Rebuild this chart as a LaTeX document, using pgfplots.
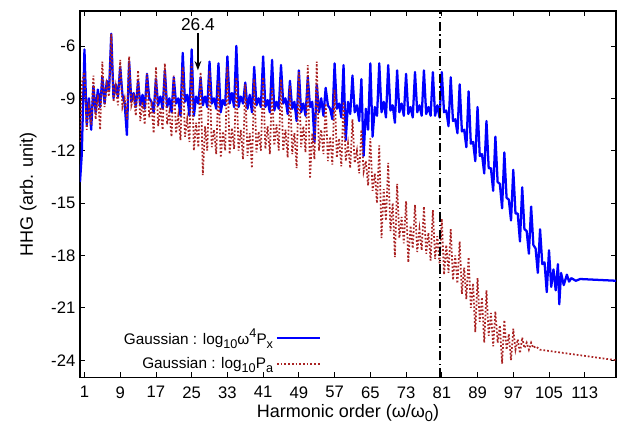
\documentclass[border=0pt]{standalone}
\usepackage{pgfplots}
\pgfplotsset{compat=1.18}
\usepackage{pgfplotstable}
\usetikzlibrary{arrows.meta}
\usepackage{fontspec}
\setmainfont{Liberation Sans}
\definecolor{myblue}{rgb}{0,0,1}
\definecolor{myred}{RGB}{170,35,35}
\newcommand{\lsub}[1]{\raisebox{-0.45ex}{\fontsize{9.5}{10}\selectfont #1}}
\newcommand{\lsup}[1]{\raisebox{0.9ex}{\fontsize{9.5}{10}\selectfont #1}}
\newcommand{\xsub}[1]{\raisebox{-0.45ex}{\fontsize{11}{12}\selectfont #1}}

\pgfplotstableread{
x y
0 -13.8
0.4 -12.2
1 -6.2
1.5 -10.5
2 -9.0
2.5 -10.8
3 -8.3
3.5 -9.8
4 -8.5
4.5 -9.5
5 -7.8
5.5 -9.3
6 -8.0
6.5 -8.6
7 -5.3
7.5 -9.0
8 -8.2
8.5 -8.9
9 -7.2
9.5 -8.8
10 -9.3
10.5 -11.1
11 -6.9
11.5 -9.2
12 -8.7
12.5 -9.5
13 -8.0
13.5 -9.4
14 -8.8
14.5 -9.6
15 -7.6
15.5 -9.0
16 -9.2
16.5 -9.8
17 -7.9
17.5 -9.4
18 -8.9
18.5 -9.6
19 -7.4
19.5 -9.5
20 -9.0
20.5 -9.8
21 -7.8
21.5 -9.3
22 -9.0
22.5 -10.0
23 -6.4
23.5 -9.2
24 -8.8
24.5 -10.0
25 -6.2
25.5 -10.0
26 -8.9
26.5 -9.3
27 -7.8
27.5 -9.4
28 -8.9
28.5 -9.5
29 -6.9
29.5 -9.3
30 -9.0
30.5 -9.6
31 -7.0
31.5 -9.8
32 -9.1
32.5 -9.4
33 -6.6
33.5 -9.3
34 -8.7
34.5 -9.5
35 -6.0
35.5 -9.5
36 -8.9
36.5 -9.3
37 -8.1
37.5 -9.6
38 -8.8
38.5 -9.8
39 -7.2
39.5 -9.4
40 -9.0
40.5 -9.5
41 -6.6
41.5 -9.5
42 -9.1
42.5 -9.8
43 -6.8
43.5 -9.7
44 -9.2
44.5 -9.6
45 -7.1
45.5 -9.3
46 -9.0
46.5 -9.9
47 -8.0
47.5 -9.6
48 -9.2
48.5 -10.3
49 -7.4
49.5 -9.8
50 -9.3
50.5 -10.0
51 -7.8
51.5 -9.5
52 -9.2
52.5 -11.5
53 -8.2
53.5 -9.8
54 -9.0
54.5 -10.0
55 -8.4
55.5 -9.4
56 -9.6
56.5 -10.2
57 -7.0
57.5 -9.6
58 -9.3
58.5 -10.1
59 -7.1
59.5 -11.4
60 -9.2
60.5 -9.9
61 -7.7
61.5 -9.8
62 -9.4
62.5 -10.3
63 -7.9
63.5 -12.3
64 -9.6
64.5 -10.8
65 -7.0
65.5 -11.2
66 -9.5
66.5 -10.0
67 -7.0
67.5 -9.8
68 -9.2
68.5 -10.1
69 -7.1
69.5 -9.7
70 -9.4
70.5 -10.4
71 -7.4
71.5 -9.8
72 -9.3
72.5 -10.0
73 -7.6
73.5 -9.9
74 -9.5
74.5 -10.1
75 -7.5
75.5 -9.8
76 -9.4
76.5 -10.0
77 -7.4
77.5 -9.9
78 -9.5
78.5 -10.0
79 -7.5
79.5 -10.0
80 -9.4
80.5 -10.1
81 -7.5
81.5 -9.8
82 -9.7
82.5 -10.6
83 -7.8
83.5 -10.3
84 -10.2
84.5 -11.0
85 -8.2
85.5 -10.9
86 -10.8
86.5 -11.8
87 -8.6
87.5 -11.6
88 -11.5
88.5 -12.6
89 -9.5
89.5 -12.3
90 -12.2
90.5 -13.3
91 -10.3
91.5 -13.0
92 -13.0
92.5 -14.3
93 -11.2
93.5 -13.8
94 -13.9
94.5 -15.3
95 -12.1
95.5 -14.7
96 -14.8
96.5 -16.0
97 -13.1
97.5 -15.6
98 -15.6
98.5 -17.2
99 -14.1
99.5 -16.5
100 -16.6
100.5 -17.9
101 -15.2
101.5 -17.4
102 -17.6
102.5 -19.0
103 -16.5
103.5 -18.5
104 -18.4
104.5 -20.1
105 -17.7
105.5 -19.8
106 -18.8
106.5 -20.0
107 -18.5
107.3 -20.8
107.7 -19.0
108.3 -19.7
109 -19.1
109.5 -19.5
110 -19.3
111 -19.45
112 -19.35
120 -19.45
}\bluedata

\pgfplotstableread{
x y
0 -11.5
0.5 -8.0
1 -7.5
1.5 -10.8
2 -9.5
2.5 -10.5
3 -7.7
3.5 -10.2
4 -8.8
4.5 -10.8
5 -6.9
5.5 -9.5
6 -8.2
6.5 -8.9
7 -5.3
7.5 -9.2
8 -8.3
8.5 -9.4
9 -6.8
9.5 -9.5
10 -9.0
10.5 -10.2
11 -6.6
11.5 -9.4
12 -8.9
12.5 -10.0
13 -7.4
13.5 -10.3
14 -9.2
14.5 -10.5
15 -7.6
15.5 -10.1
16 -9.4
16.5 -11.0
17 -7.2
17.5 -10.6
18 -9.5
18.5 -10.8
19 -7.0
19.5 -10.5
20 -9.8
20.5 -11.2
21 -7.7
21.5 -11.0
22 -10.0
22.5 -11.4
23 -7.2
23.5 -11.2
24 -10.2
24.5 -11.5
25 -7.0
25.5 -12.0
26 -10.4
26.5 -11.8
27 -7.5
27.5 -13.4
28 -10.6
28.5 -12.0
29 -7.4
29.5 -11.8
30 -10.8
30.5 -12.2
31 -8.0
31.5 -12.4
32 -10.9
32.5 -12.0
33 -7.2
33.5 -12.2
34 -10.7
34.5 -11.9
35 -7.8
35.5 -12.0
36 -10.8
36.5 -12.5
37 -8.2
37.5 -12.3
38 -11.0
38.5 -13.0
39 -7.9
39.5 -12.1
40 -10.9
40.5 -12.0
41 -7.8
41.5 -11.9
42 -10.6
42.5 -12.2
43 -8.4
43.5 -11.7
44 -10.5
44.5 -12.0
45 -7.9
45.5 -12.0
46 -10.8
46.5 -12.4
47 -8.3
47.5 -12.2
48 -11.0
48.5 -13.0
49 -7.5
49.5 -11.8
50 -10.6
50.5 -12.1
51 -7.1
51.5 -13.6
52 -11.0
52.5 -12.5
53 -6.9
53.5 -12.0
54 -10.8
54.5 -12.2
55 -9.3
55.5 -12.6
56 -11.2
56.5 -12.8
57 -8.5
57.5 -12.4
58 -11.3
58.5 -12.9
59 -9.2
59.5 -12.6
60 -11.6
60.5 -13.0
61 -10.2
61.5 -12.7
62 -12.0
62.5 -13.3
63 -10.8
63.5 -13.2
64 -12.6
64.5 -14.0
65 -11.3
65.5 -14.3
66 -13.3
66.5 -15.0
67 -11.7
67.5 -17.0
68 -14.2
68.5 -16.0
69 -12.7
69.5 -16.6
70 -15.0
70.5 -18.1
71 -13.9
71.5 -17.0
72 -15.8
72.5 -17.3
73 -14.9
73.5 -18.4
74 -16.3
74.5 -17.6
75 -15.1
75.5 -17.8
76 -16.5
76.5 -17.7
77 -15.2
77.5 -17.9
78 -16.7
78.5 -18.3
79 -15.4
79.5 -18.2
80 -16.9
80.5 -18.5
81 -15.9
81.5 -19.1
82 -17.4
82.5 -19.0
83 -16.5
83.5 -19.4
84 -18.0
84.5 -19.6
85 -17.2
85.5 -20.2
86 -18.7
86.5 -20.5
87 -18.1
87.5 -21.0
88 -19.6
88.5 -22.4
89 -19.3
89.5 -21.8
90 -20.4
90.5 -23.0
91 -20.0
91.5 -22.6
92 -21.3
92.5 -23.2
93 -21.2
93.5 -23.0
94 -22.0
94.5 -24.2
95 -21.7
95.5 -23.4
96 -22.5
96.5 -24.0
97 -22.2
97.5 -23.4
98 -22.8
98.5 -23.6
99 -22.7
99.5 -23.3
100 -23.0
100.5 -23.4
101 -23.0
101.5 -23.3
102 -23.2
103 -23.4
120 -24.0
}\reddata

\begin{document}
\begin{tikzpicture}
\path[use as bounding box] (-60pt,-42pt) rectangle (406.5pt,283.25pt);
\begin{axis}[
  scale only axis,
  width=402pt, height=275pt,
  xmin=0, xmax=120, ymin=-25, ymax=-4,
  xtick={1,9,...,113},
  ytick={-24,-21,-18,-15,-12,-9,-6},
  yticklabels={-24,-21,-18,-15,-12,-9,-6},
  tick align=inside,
  major tick length=4pt,
  tick style={black, line width=0.6pt},
  axis line style={line width=1.1pt},
  /pgf/number format/assume math mode=true,
  tick label style={font=\fontsize{12.5}{14}\selectfont},
  xticklabel style={yshift=-3pt},
  label style={font=\fontsize{13.5}{15}\selectfont},
  xlabel={Harmonic order (ω/ω\xsub{0})},
  ylabel={HHG (arb. unit)},
  xlabel style={yshift=2pt},
  ylabel style={yshift=4pt},
  legend cell align=right,
  legend plot pos=right,
  legend style={draw=none, fill=none, at={(0.452,0.076)}, anchor=east,
    font=\fontsize{11.5}{13}\selectfont, row sep=4pt, inner sep=1pt},
  legend image code/.code={\draw[#1] (0pt,0pt) -- (32pt,0pt);},
]
\addplot[myblue, line width=1.7pt, line join=round] table[x=x,y=y] {\bluedata};
\addlegendentry{Gaussian : log\lsub{10}ω\lsup{4}P\lsub{x}}
\addplot[myred, line width=1.3pt, dash pattern=on 1.3pt off 1.5pt] table[x=x,y=y] {\reddata};
\addlegendentry{Gaussian : log\lsub{10}P\lsub{a}}
\draw[black, line width=1.1pt, dash pattern=on 7pt off 2.5pt on 1pt off 2.5pt] (axis cs:80.6,-25) -- (axis cs:80.6,-4);
\draw[-{Stealth[length=7pt,width=5pt]}, line width=1pt] (axis cs:26.4,-5.25) -- (axis cs:26.4,-7.4);
\node[font=\fontsize{13}{15}\selectfont] at (axis cs:26.4,-4.78) {26.4};
\end{axis}
\end{tikzpicture}
\end{document}
